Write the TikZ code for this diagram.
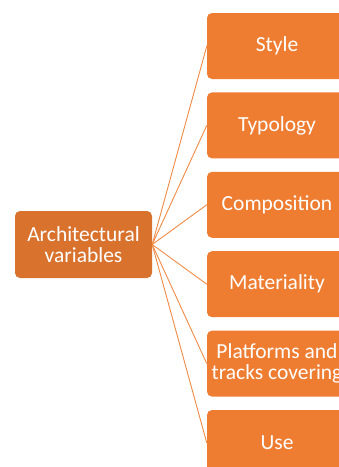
\documentclass[tikz,border=0pt]{standalone}
\usepackage{fontspec}
\setmainfont{Carlito}
\usetikzlibrary{positioning}
\definecolor{orangeDark}{HTML}{D8722D}
\definecolor{orangeMain}{HTML}{EE7D32}
\definecolor{orangeLine}{HTML}{F08A44}
\tikzset{
  parent/.style={fill=orangeDark, text=white, rounded corners=5pt,
    minimum width=137pt, minimum height=67pt, align=center,
    font=\fontsize{21.5}{21.5}\selectfont, inner sep=2pt},
  child/.style={fill=orangeMain, text=white, rounded corners=5pt,
    minimum width=140pt, minimum height=66pt, align=center,
    font=\fontsize{21.5}{21.5}\selectfont, inner sep=2pt},
  link/.style={draw=orangeLine, line width=0.9pt}
}

\begin{document}
\begin{tikzpicture}[x=1pt, y=-1pt]
      \useasboundingbox (0, 0) rectangle (339, 467);
      \clip (0, 0) rectangle (339, 467);
      % boxes
      \node[parent] (arch) at (83.5, 244.5) {Architectural\\variables};
      \node[child] (style) at (277, 46) {Style};
      \node[child, below=13pt of style] (typology) {Typology};
      \node[child, below=13pt of typology] (composition) {Composition};
      \node[child, below=13pt of composition] (materiality) {Materiality};
      \node[child, below=13pt of materiality] (platforms) {Platforms and\\tracks covering};
      \node[child, below=13pt of platforms] (use) {Use};
      % connectors
      \foreach \c in {style, typology, composition, materiality, platforms, use}
        \draw[link] (arch.east) -- (\c.west);
    \end{tikzpicture}
\end{document}
